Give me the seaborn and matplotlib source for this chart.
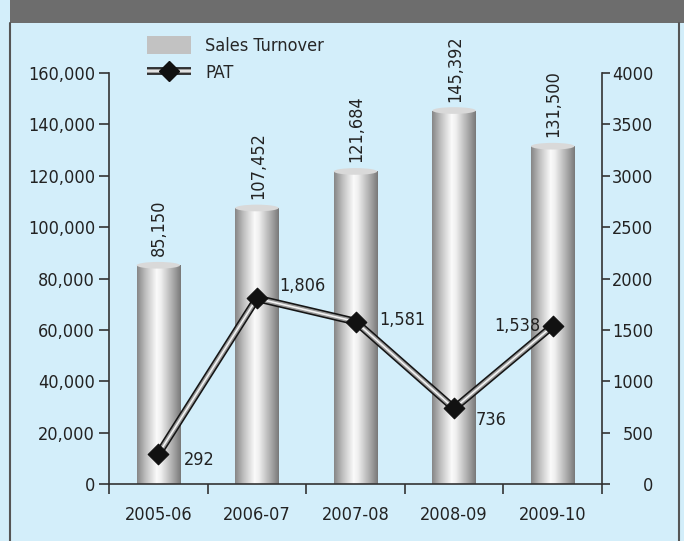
import matplotlib
matplotlib.use('Agg')
import matplotlib.pyplot as plt
import seaborn as sns
import numpy as np
import pandas as pd
from matplotlib.colors import LinearSegmentedColormap
from matplotlib.patches import Ellipse, Patch, Rectangle
from matplotlib.lines import Line2D
from matplotlib.legend_handler import HandlerTuple

# data
years = ['2005-06', '2006-07', '2007-08', '2008-09', '2009-10']
sales = [85150, 107452, 121684, 145392, 131500]
pat = [292, 1806, 1581, 736, 1538]
sales_labels = ['85,150', '107,452', '121,684', '145,392', '131,500']
pat_labels = ['292', '1,806', '1,581', '736', '1,538']
pat_offsets = [(26, -6), (22, 12), (24, 2), (22, -12), (-12, 0)]
pat_align = ['left', 'left', 'left', 'left', 'right']

sns.set_theme(style='white')
plt.rcParams['font.family'] = ['Liberation Sans Narrow', 'DejaVu Sans']
plt.rcParams['font.stretch'] = 'condensed'

bg = '#d3eefa'
fs = 13
fig = plt.figure(figsize=(6.84, 5.41), dpi=100, facecolor=bg)

# header bar and frame
fig.patches.append(Rectangle((10 / 684, 1 - 23 / 541), 1, 23 / 541, transform=fig.transFigure,
                             facecolor='#6d6d6d', edgecolor='none', zorder=0))
fig.lines.append(Line2D([10 / 684, 10 / 684], [0, 1 - 23 / 541], transform=fig.transFigure,
                        color='#555555', lw=1.5))
fig.lines.append(Line2D([679 / 684, 679 / 684], [0, 1 - 23 / 541], transform=fig.transFigure,
                        color='#555555', lw=1.5))

ax = fig.add_axes([109 / 684, 1 - 484 / 541, (602 - 109) / 684, (484 - 73) / 541])
ax.set_facecolor('none')

df = pd.DataFrame({'year': years, 'sales': sales, 'pat': pat})
df['pos'] = np.arange(len(df))

sns.barplot(data=df, x='year', y='sales', ax=ax, width=0.44, color='#bbbbbb',
            edgecolor='none', saturation=1)

cmap = LinearSegmentedColormap.from_list('cyl', [(0, '#868686'), (0.2, '#c0c0c0'),
                                                 (0.45, '#fbfbfb'), (0.55, '#eeeeee'),
                                                 (0.85, '#a2a2a2'), (1, '#787878')])
grad = np.linspace(0, 1, 256).reshape(1, -1)
for p, lab in zip(list(ax.patches), sales_labels):
    x0, w, h = p.get_x(), p.get_width(), p.get_height()
    im = ax.imshow(grad, cmap=cmap, aspect='auto', extent=(x0, x0 + w, 0, h), zorder=2)
    im.set_clip_path(p)
    ax.add_patch(Ellipse((x0 + w / 2, h), w, 2600, facecolor='#d9d9d9', edgecolor='none', zorder=3))
    ax.annotate(lab, (x0 + w / 2, h), xytext=(1, 9), textcoords='offset pixels',
                rotation=90, ha='center', va='bottom', fontsize=fs, color='#222222')

ax.set_xlim(-0.5, len(years) - 0.5)
ax.set_ylim(0, 160000)
ax.set_yticks(np.arange(0, 160001, 20000))
ax.set_yticklabels([f'{v:,}' for v in range(0, 160001, 20000)])
ax.set_xticks(np.arange(-0.5, len(years), 1))
ax.set_xticklabels([])
ax.set_xticks(np.arange(len(years)), minor=True)
ax.set_xticklabels(years, minor=True)
ax.tick_params(axis='x', which='major', length=7, width=1.2, color='#333333', direction='out', bottom=True)
ax.tick_params(axis='x', which='minor', length=0, pad=16, labelsize=fs, labelcolor='#222222')
ax.tick_params(axis='y', length=7, width=1.2, color='#333333', direction='out', left=True,
               labelsize=fs, labelcolor='#222222', pad=3)
ax.set_xlabel('')
ax.set_ylabel('')
for s in ['top', 'right']:
    ax.spines[s].set_visible(False)
for s in ['left', 'bottom']:
    ax.spines[s].set_color('#333333')
    ax.spines[s].set_linewidth(1.2)

ax2 = ax.twinx()
ax2.set_facecolor('none')
sns.lineplot(data=df, x='pos', y='pat', ax=ax2, color='#151515', lw=5.5, zorder=4)
sns.lineplot(data=df, x='pos', y='pat', ax=ax2, color='#9a9a9a', lw=3.2, zorder=5)
sns.lineplot(data=df, x='pos', y='pat', ax=ax2, color='#f2f2f2', lw=1.2, zorder=6)
sns.scatterplot(data=df, x='pos', y='pat', ax=ax2, marker='D', s=110, color='#111111',
                edgecolor='#111111', zorder=7)
for x, y, lab, off, al in zip(df['pos'], pat, pat_labels, pat_offsets, pat_align):
    ax2.annotate(lab, (x, y), xytext=off, textcoords='offset pixels', ha=al, va='center',
                 fontsize=fs, color='#222222')
ax2.set_ylim(0, 4000)
ax2.set_yticks(np.arange(0, 4001, 500))
ax2.set_xlim(-0.5, len(years) - 0.5)
ax2.set_xlabel('')
ax2.set_ylabel('')
ax2.tick_params(axis='y', length=6, width=1.2, color='#333333', direction='out', right=True,
                labelsize=fs, labelcolor='#222222', pad=31)
for t in ax2.get_yticklabels():
    t.set_horizontalalignment('right')
for s in ['top', 'left', 'bottom']:
    ax2.spines[s].set_visible(False)
ax2.spines['right'].set_color('#333333')
ax2.spines['right'].set_linewidth(1.2)

# legend
h_bar = Patch(facecolor='#c2c2c2', edgecolor='none')
h_line = (Line2D([], [], color='#151515', lw=5.5, solid_capstyle='butt'),
          Line2D([], [], color='#9a9a9a', lw=3.2, solid_capstyle='butt'),
          Line2D([], [], color='#f2f2f2', lw=1.2, solid_capstyle='butt'),
          Line2D([], [], marker='D', ls='none', ms=10, color='#111111'))
fig.legend([h_bar, h_line], ['Sales Turnover', 'PAT'], loc='upper left',
           bbox_to_anchor=(131 / 684, 1 - 20 / 541), frameon=False, fontsize=fs,
           handlelength=2.4, handleheight=1.1, labelspacing=0.45, handletextpad=0.8,
           handler_map={tuple: HandlerTuple(ndivide=1)})

fig.savefig('out.png', dpi=100, facecolor=bg)
